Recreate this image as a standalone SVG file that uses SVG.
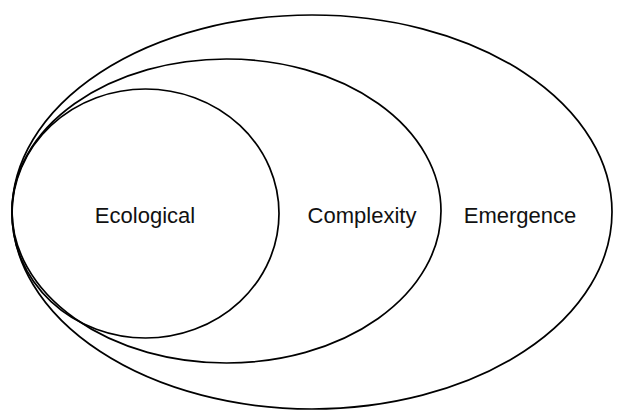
<svg xmlns="http://www.w3.org/2000/svg" width="620" height="411" viewBox="0 0 620 411">
  <style>
    .ring { fill: none; stroke: #000; stroke-width: 1.7; }
    .label { font-family: "Liberation Sans", Arial, sans-serif; font-size: 22px; fill: #111; text-anchor: middle; }
  </style>
  <rect width="620" height="411" fill="#fff"/>
  <g id="emergence">
    <ellipse class="ring" cx="312" cy="212" rx="300" ry="197"/>
    <text class="label" x="520" y="223">Emergence</text>
  </g>
  <g id="complexity">
    <ellipse class="ring" cx="226.5" cy="211" rx="214.5" ry="152"/>
    <text class="label" x="362" y="223">Complexity</text>
  </g>
  <g id="ecological">
    <ellipse class="ring" cx="145.5" cy="213.5" rx="133.5" ry="124.5"/>
    <text class="label" x="145" y="223">Ecological</text>
  </g>
  <g id="connectors"/>
</svg>
